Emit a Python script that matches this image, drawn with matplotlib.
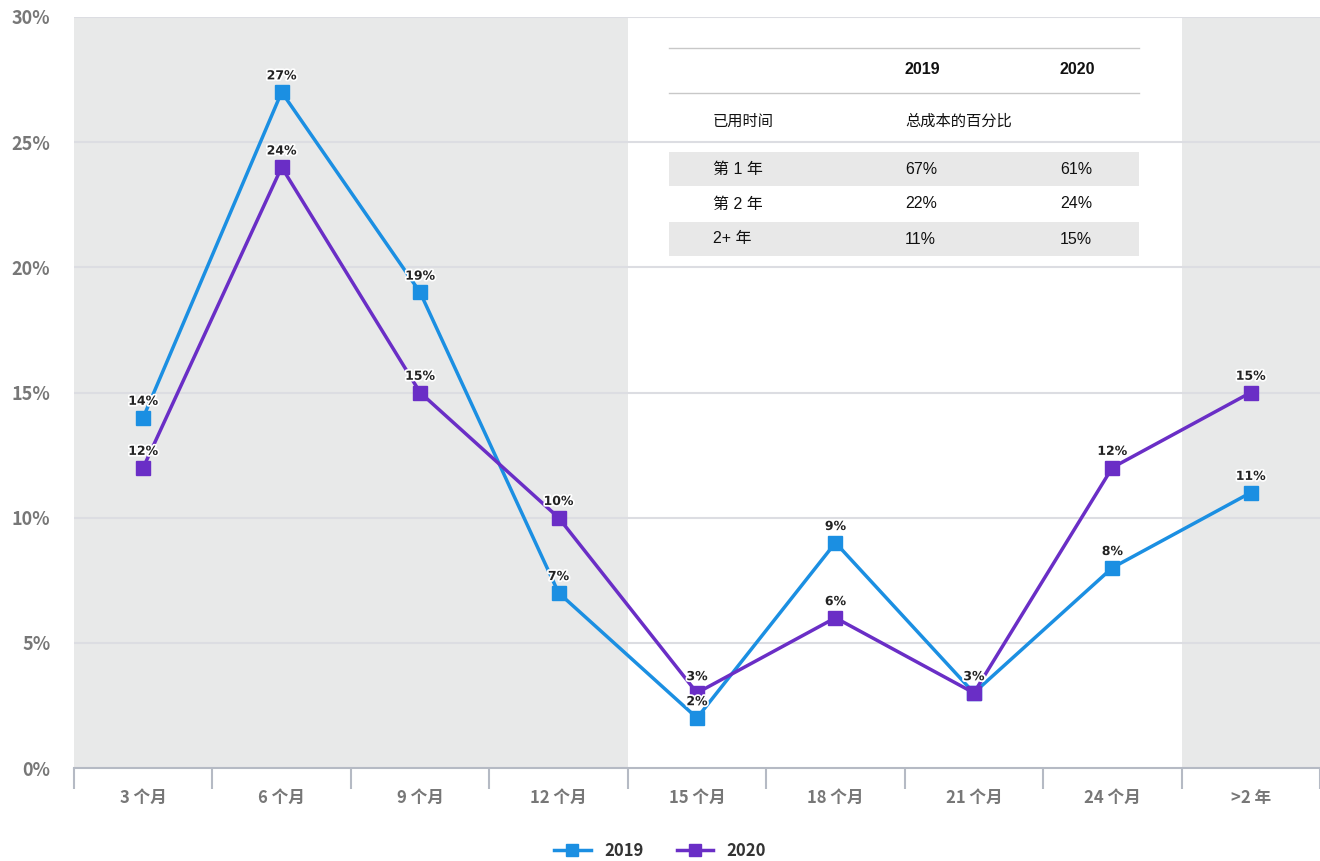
import matplotlib.pyplot as plt
import matplotlib.patches as mpatches
import matplotlib.patheffects as pe
import numpy as np

plt.rcParams['font.family'] = ['Noto Sans CJK SC', 'DejaVu Sans']

categories = ['3 个月', '6 个月', '9 个月', '12 个月', '15 个月', '18 个月', '21 个月', '24 个月', '>2 年']
values_2019 = [14, 27, 19, 7, 2, 9, 3, 8, 11]
values_2020 = [12, 24, 15, 10, 3, 6, 3, 12, 15]
shaded = [0, 1, 2, 3, 8]

table_header = ['', '2019', '2020']
table_sub = ['已用时间', '总成本的百分比', '']
table_rows = [['第 1 年', '67%', '61%'],
              ['第 2 年', '22%', '24%'],
              ['2+ 年', '11%', '15%']]

c19 = '#1b8fe2'
c20 = '#6a2ec6'
W, H = 1320, 861
tab_font = ['Liberation Sans', 'Noto Sans CJK SC']

fig = plt.figure(figsize=(W / 100, H / 100), dpi=100)
ax = fig.add_axes([74 / W, (H - 768) / H, (1320 - 74) / W, (768 - 17) / H])

x = np.arange(len(categories))
for i in shaded:
    ax.axvspan(i - 0.5, i + 0.5, color='#e8e9e9', zorder=0, lw=0)

for v in [5, 10, 15, 20, 25, 30]:
    ax.axhline(v, color='#dcdde2', lw=1.5, zorder=1)

for vals, col, lab in [(values_2019, c19, '2019'), (values_2020, c20, '2020')]:
    ax.plot(x, vals, color=col, lw=2.5, marker='s', markersize=10, label=lab, zorder=3)
    for xi, v in zip(x, vals):
        ax.annotate(f'{v}%', (xi, v), xytext=(0, 7), textcoords='offset points',
                    ha='center', va='bottom', fontsize=9, fontweight='bold',
                    family='DejaVu Sans', color='#222222', zorder=5,
                    path_effects=[pe.withStroke(linewidth=2.5, foreground='white')])

ax.set_xlim(-0.5, len(categories) - 0.5)
ax.set_ylim(0, 30)
ax.set_yticks([0, 5, 10, 15, 20, 25, 30])
ax.set_yticklabels([f'{v}%' for v in [0, 5, 10, 15, 20, 25, 30]])
ax.set_xticks(x)
ax.set_xticklabels(categories)
ax.set_xticks(np.arange(-0.5, len(categories)), minor=True)
ax.tick_params(axis='x', which='major', length=0, pad=15, labelsize=12, labelcolor='#777777')
ax.tick_params(axis='x', which='minor', length=15, width=1.5, color='#b5bac4')
ax.tick_params(axis='y', length=0, pad=17, labelsize=13, labelcolor='#777777')
for t in ax.get_xticklabels() + ax.get_yticklabels():
    t.set_fontweight('bold')
for s in ['top', 'right', 'left']:
    ax.spines[s].set_visible(False)
ax.spines['bottom'].set_color('#b5bac4')
ax.spines['bottom'].set_linewidth(1.5)

# inset table
tx0, tx1 = 669, 1139
col_x = [713, 905, 1060]

def fy(py):
    return (H - py) / H

for py in [48, 93]:
    fig.add_artist(plt.Line2D([tx0 / W, tx1 / W], [fy(py), fy(py)], color='#c8c8c8', lw=1))
for j, txt in enumerate(table_header):
    fig.text(col_x[j] / W, fy(70), txt, ha='left', va='center', fontsize=11.5,
             fontweight='bold', color='#111111', family=tab_font)
for j, txt in enumerate(table_sub):
    fig.text(col_x[j] / W, fy(122), txt, ha='left', va='center', fontsize=11,
             color='#111111', family=tab_font)
row_y = [169, 204, 239]
for r, (row, py) in enumerate(zip(table_rows, row_y)):
    if r % 2 == 0:
        fig.add_artist(mpatches.Rectangle((tx0 / W, fy(py + 17)), (tx1 - tx0) / W, 34 / H,
                                          color='#e8e8e8', lw=0))
    for j, txt in enumerate(row):
        fig.text(col_x[j] / W, fy(py), txt, ha='left', va='center', fontsize=11.5,
                 color='#111111', family=tab_font)

leg = fig.legend(loc='center', bbox_to_anchor=(0.5, fy(851)), ncol=2, frameon=False,
                 fontsize=12, handlelength=2.2, columnspacing=2.0, markerscale=0.9)
for t in leg.get_texts():
    t.set_fontweight('bold')
    t.set_color('#333333')

fig.savefig('out.png', dpi=100)
